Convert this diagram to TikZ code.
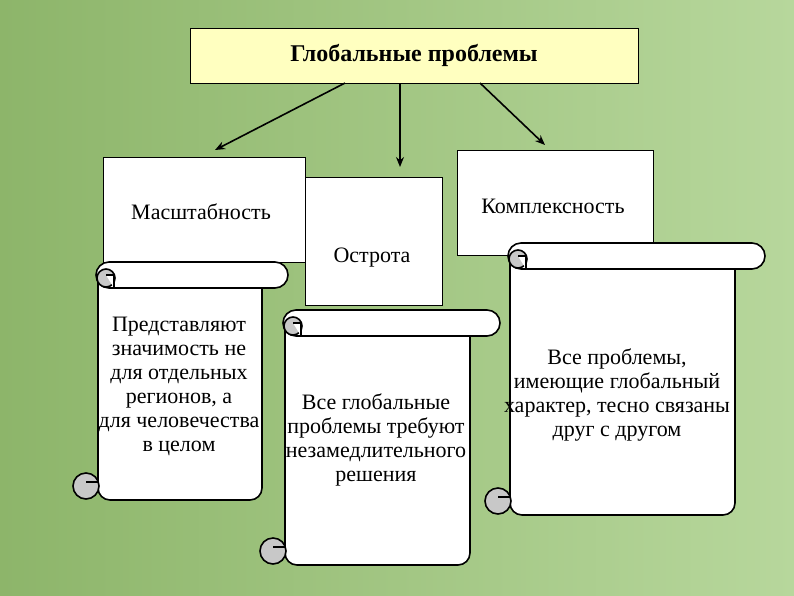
\documentclass[tikz,border=0pt]{standalone}
\usepackage{fontspec}
\setmainfont{Liberation Serif}
\usetikzlibrary{arrows.meta}
\definecolor{bgd}{HTML}{8DB56A}
\definecolor{bgl}{HTML}{B7D79C}
\definecolor{ttl}{HTML}{FFFFC0}
\definecolor{curl}{HTML}{C8C8C8}
\tikzset{box/.style={draw,line width=1pt,fill=white},
 lbl/.style={font=\fontsize{22}{24}\selectfont,align=center},
 arr/.style={line width=1.6pt,-{Stealth[length=10pt,width=8pt]}},
 sc/.style={draw,line width=1.6pt}}
\newcommand{\myscroll}[5]{% x1 x2 ytop ybot rollend
 \filldraw[fill=white,draw=black,line width=1.6pt,rounded corners=12pt] (#1,#3+13) -- (#1,#4) -- (#2,#4) -- (#2,#3+13);
 \draw[sc,fill=white,rounded corners=13pt] (#1-2,#3) rectangle (#5,#3+26);
 \draw[sc,fill=curl] (#1+8,#3+16) circle (9pt);
 \draw[sc,fill=white] (#1+8,#3+13) -- (#1+16,#3+13) -- (#1+16,#3+26);
 \draw[sc,fill=curl] (#1-12,#4-14) circle (13pt);
 \draw[sc] (#1-12,#4-18) -- (#1,#4-18);
}
\begin{document}
\begin{tikzpicture}[x=1pt,y=-1pt]
\useasboundingbox (0,0) rectangle (794,595);
\shade[left color=bgd,right color=bgl] (0,0) rectangle (794,595);
\node[box,fill=ttl,minimum width=448pt,minimum height=55pt,font=\bfseries\fontsize{24}{26}\selectfont] (t) at (414,55.5) {Глобальные проблемы};
\node[box,minimum width=202pt,minimum height=105pt] (m) at (204,209.5) {};
\node[lbl] at (201,212) {Масштабность};
\node[box,minimum width=196pt,minimum height=105pt] (k) at (555,202.5) {};
\node[lbl] at (553,206) {Комплексность};
\node[box,minimum width=137pt,minimum height=128pt] (o) at (373.5,241) {};
\node[lbl] at (372,258) {Острота};
\coordinate (a1) at (345,83); \coordinate (a2) at (400,83); \coordinate (a3) at (480,83);
\draw[arr] (a1) -- (215,150);
\draw[arr] (a2) -- (400,167);
\draw[arr] (a3) -- (545,145);
\myscroll{98}{262}{262}{500}{288}
\node[lbl] (s1) at (179,386) {Представляют\\значимость не\\для отдельных\\регионов, а\\для человечества\\в целом};
\myscroll{285}{470}{310}{565}{500}
\node[lbl] (s2) at (376,440) {Все глобальные\\проблемы требуют\\незамедлительного\\решения};
\myscroll{510}{735}{243}{515}{765}
\node[lbl] (s3) at (617,395) {Все проблемы,\\имеющие глобальный\\характер, тесно связаны\\друг с другом};
\end{tikzpicture}
\end{document}
